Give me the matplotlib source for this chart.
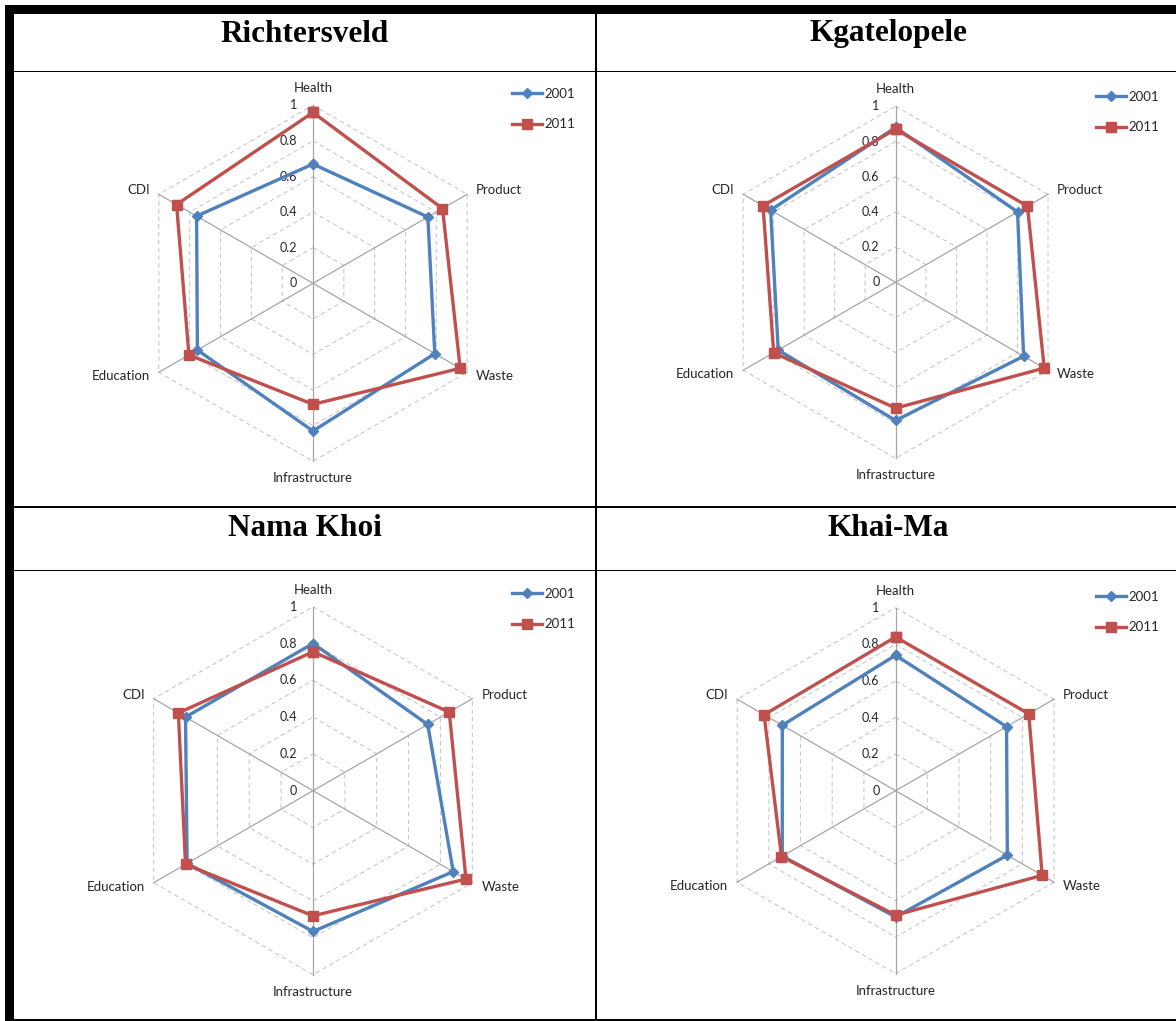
import numpy as np
import matplotlib
matplotlib.use('Agg')
import matplotlib.pyplot as plt
from matplotlib.patches import Rectangle

W, H = 1176, 1021

categories = ['Health', 'Product', 'Waste', 'Infrastructure', 'Education', 'CDI']
levels = [0, 0.2, 0.4, 0.6, 0.8, 1.0]
level_labels = ['0', '0.2', '0.4', '0.6', '0.8', '1']
years = ['2001', '2011']

titles = ['Richtersveld', 'Kgatelopele', 'Nama Khoi', 'Khai-Ma']

richtersveld_2001 = [0.67, 0.745, 0.79, 0.83, 0.75, 0.755]
richtersveld_2011 = [0.96, 0.84, 0.955, 0.68, 0.805, 0.885]
kgatelopele_2001 = [0.88, 0.80, 0.84, 0.785, 0.77, 0.82]
kgatelopele_2011 = [0.87, 0.865, 0.975, 0.715, 0.80, 0.87]
nama_khoi_2001 = [0.80, 0.72, 0.88, 0.765, 0.79, 0.80]
nama_khoi_2011 = [0.755, 0.855, 0.96, 0.68, 0.80, 0.845]
khai_ma_2001 = [0.74, 0.70, 0.705, 0.69, 0.715, 0.715]
khai_ma_2011 = [0.84, 0.84, 0.925, 0.68, 0.72, 0.83]

BLUE = '#4F81BD'
RED = '#C0504D'
TEXT = '#262626'
FONT = ['Lato', 'DejaVu Sans']

fig = plt.figure(figsize=(W / 100, H / 100), dpi=100)

# table frame drawn in pixel coordinates
bg = fig.add_axes([0, 0, 1, 1])
bg.set_xlim(0, W)
bg.set_ylim(H, 0)
bg.axis('off')
for x, y, w, h in [(5, 5, 9, 1016), (5, 5, 1171, 9), (595, 14, 2, 1006),
                   (14, 71, 1162, 1.2), (14, 506, 1162, 2), (14, 569.5, 1162, 1.3),
                   (14, 1018.5, 1162, 2)]:
    bg.add_patch(Rectangle((x, y), w, h, color='black', lw=0))

title_pos = [(305, 34), (888, 34), (305, 528), (888, 528)]
for t, (x, y) in zip(titles, title_pos):
    bg.text(x, y, t, ha='center', va='center', fontsize=22.5, fontweight='bold',
            family='Liberation Serif', color='black')


def radar(cx, cy, R, box, s2001, s2011, legend_xy):
    x0, y0, x1, y1 = box
    ax = fig.add_axes([x0 / W, 1 - y1 / H, (x1 - x0) / W, (y1 - y0) / H])
    ax.set_xlim((x0 - cx) / R, (x1 - cx) / R)
    ax.set_ylim((cy - y1) / R, (cy - y0) / R)
    ax.axis('off')

    theta = np.deg2rad(np.arange(len(categories)) * 60)
    sx, sy = np.sin(theta), np.cos(theta)

    # hexagonal gridlines and spokes
    for lv in levels[1:]:
        ax.plot(np.append(sx, sx[0]) * lv, np.append(sy, sy[0]) * lv,
                color='#C8C8C8', lw=0.8, ls=(0, (4, 3)), zorder=1)
    for i in range(len(categories)):
        ax.plot([0, sx[i]], [0, sy[i]], color='#A6A6A6', lw=0.9, zorder=2)

    for lv, lab in zip(levels, level_labels):
        ax.annotate(lab, (0, lv), xytext=(-16, 0), textcoords='offset pixels',
                    ha='right', va='center', fontsize=9, color=TEXT, family=FONT)

    for i, cat in enumerate(categories):
        if abs(sx[i]) > 0.1:
            dy = 4 if sy[i] > 0 else -4
            off = (9, dy) if sx[i] > 0 else (-9, dy)
            ha = 'left' if sx[i] > 0 else 'right'
        elif sy[i] > 0:
            off, ha = (0, 17), 'center'
        else:
            off, ha = (0, -17), 'center'
        ax.annotate(cat, (sx[i], sy[i]), xytext=off, textcoords='offset pixels',
                    ha=ha, va='center', fontsize=9.5, color=TEXT, family=FONT)

    v1 = np.array(s2001)
    v2 = np.array(s2011)
    ax.plot(np.append(sx * v1, sx[0] * v1[0]), np.append(sy * v1, sy[0] * v1[0]),
            color=BLUE, lw=2.4, marker='D', ms=5.5, label=years[0], zorder=3)
    ax.plot(np.append(sx * v2, sx[0] * v2[0]), np.append(sy * v2, sy[0] * v2[0]),
            color=RED, lw=2.4, marker='s', ms=7.5, label=years[1], zorder=4)

    lx, ly = legend_xy
    ax.legend(loc='upper left', bbox_to_anchor=(lx / W, 1 - ly / H),
              bbox_transform=fig.transFigure, frameon=False, borderpad=0,
              borderaxespad=0, handlelength=2.3, handletextpad=0.15,
              labelspacing=1.4, prop={'family': FONT, 'size': 9.5},
              labelcolor=TEXT)


radar(313, 283.3, 178, (14, 72, 595, 506), richtersveld_2001, richtersveld_2011, (512, 88))
radar(895.6, 282.3, 176, (597, 72, 1176, 506), kgatelopele_2001, kgatelopele_2011, (1096, 91))
radar(313, 790.7, 184, (14, 571, 595, 1018), nama_khoi_2001, nama_khoi_2011, (512, 588))
radar(895.6, 790.7, 183, (597, 571, 1176, 1018), khai_ma_2001, khai_ma_2011, (1096, 591))

fig.savefig('out.png', dpi=100)
